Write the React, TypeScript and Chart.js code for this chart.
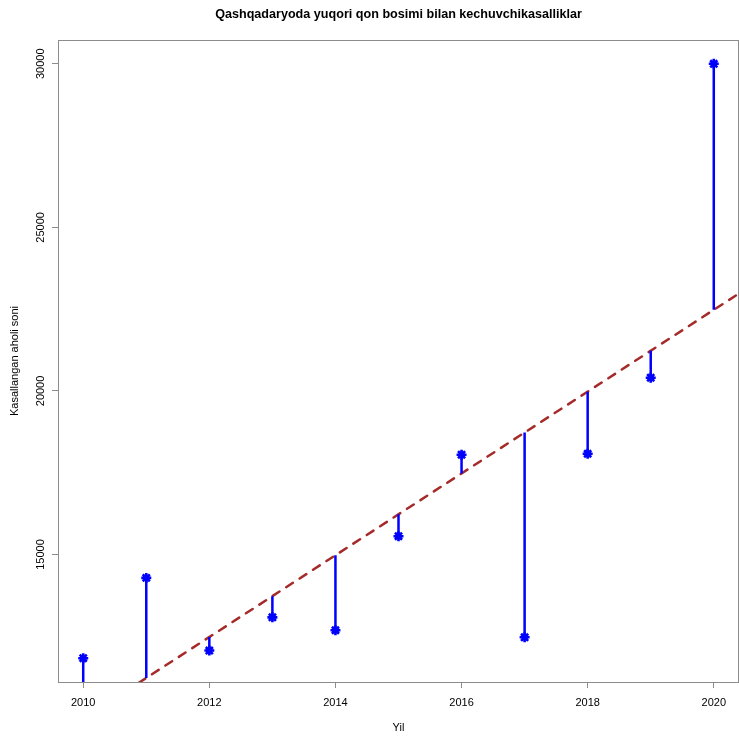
import { useEffect, useRef } from 'react';
import { Chart, registerables } from 'chart.js';

Chart.register(...registerables);

// years on the x axis and observed cases per year
const years = [2010, 2011, 2012, 2013, 2014, 2015, 2016, 2017, 2018, 2019, 2020];
const cases = [11830, 14285, 12065, 13080, 12685, 15560, 18050, 12470, 18080, 20405, 30000];

const xTickValues = [2010, 2012, 2014, 2016, 2018, 2020];
const yTickValues = [15000, 20000, 25000, 30000];

const TITLE = 'Qashqadaryoda yuqori qon bosimi bilan kechuvchikasalliklar';
const X_TITLE = 'Yil';
const Y_TITLE = 'Kasallangan aholi soni';

const AXIS_GREY = '#8c8c8c';
const FONT = "'Liberation Sans', Arial, Helvetica, sans-serif";

// least squares line, same as abline(lm(cases ~ years)) in the source plot
function fitLine(xs: number[], ys: number[]) {
  const n = xs.length;
  const mx = xs.reduce((a, b) => a + b, 0) / n;
  const my = ys.reduce((a, b) => a + b, 0) / n;
  let sxy = 0;
  let sxx = 0;
  xs.forEach((x, i) => {
    sxy += (x - mx) * (ys[i] - my);
    sxx += (x - mx) * (x - mx);
  });
  const slope = sxy / sxx;
  return (x: number) => my + slope * (x - mx);
}

// R pads the data range by 4% on each side
function paddedRange(vals: number[]) {
  const lo = Math.min(...vals);
  const hi = Math.max(...vals);
  const pad = (hi - lo) * 0.04;
  return [lo - pad, hi + pad];
}

const plotBox = {
  id: 'plotBox',
  afterDatasetsDraw(chart: Chart) {
    const { ctx, chartArea } = chart;
    ctx.save();
    ctx.strokeStyle = AXIS_GREY;
    ctx.lineWidth = 1;
    ctx.strokeRect(
      Math.round(chartArea.left) + 0.5,
      Math.round(chartArea.top) + 0.5,
      Math.round(chartArea.right - chartArea.left) - 1,
      Math.round(chartArea.bottom - chartArea.top),
    );
    ctx.restore();
  },
};

export default function App() {
  const canvasRef = useRef<HTMLCanvasElement>(null);

  useEffect(() => {
    document.body.style.margin = '0';
    const canvas = canvasRef.current;
    if (!canvas) return;

    const fit = fitLine(years, cases);
    const [xMin, xMax] = paddedRange(years);
    const [yMin, yMax] = paddedRange(cases);

    const residuals: { x: number; y: number | null }[] = [];
    years.forEach((yr, i) => {
      residuals.push({ x: yr, y: cases[i] });
      residuals.push({ x: yr, y: fit(yr) });
      residuals.push({ x: yr, y: null });
    });

    const chart = new Chart(canvas, {
      type: 'line',
      data: {
        datasets: [
          {
            label: 'points',
            data: years.map((yr, i) => ({ x: yr, y: cases[i] })),
            showLine: false,
            pointStyle: 'star',
            pointRadius: 5,
            pointBorderWidth: 2.6,
            pointBorderColor: '#0000ff',
            pointBackgroundColor: '#0000ff',
          },
          {
            label: 'residuals',
            data: residuals,
            borderColor: '#0000ff',
            borderWidth: 2.5,
            pointRadius: 0,
            spanGaps: false,
          },
          {
            label: 'trend',
            data: [
              { x: xMin, y: fit(xMin) },
              { x: xMax, y: fit(xMax) },
            ],
            borderColor: '#a52a2a',
            borderWidth: 2.5,
            borderDash: [8, 8],
            borderCapStyle: 'round',
            pointRadius: 0,
          },
        ],
      },
      options: {
        responsive: false,
        animation: false,
        events: [],
        font: { family: FONT },
        layout: { autoPadding: false },
        plugins: {
          legend: { display: false },
          tooltip: { enabled: false },
          title: {
            display: true,
            text: TITLE,
            fullSize: false,
            color: '#000',
            font: { family: FONT, size: 12.6, weight: 'bold' },
            padding: { top: 7, bottom: 17.9 },
          },
        },
        scales: {
          x: {
            type: 'linear',
            min: xMin,
            max: xMax,
            afterFit: (scale) => {
              scale.height = 54;
              scale.paddingLeft = 0;
              scale.paddingRight = 0;
            },
            afterBuildTicks: (scale) => {
              scale.ticks = xTickValues.map((v) => ({ value: v }));
            },
            ticks: {
              color: '#000',
              font: { family: FONT, size: 11 },
              padding: 8,
              maxRotation: 0,
              callback: (v) => String(v),
            },
            grid: {
              drawOnChartArea: false,
              drawTicks: true,
              tickLength: 6,
              color: AXIS_GREY,
            },
            border: { color: AXIS_GREY },
            title: {
              display: true,
              text: X_TITLE,
              color: '#000',
              font: { family: FONT, size: 11 },
              padding: { top: 0, bottom: 1 },
            },
          },
          y: {
            type: 'linear',
            min: yMin,
            max: yMax,
            afterFit: (scale) => {
              scale.width = 58;
              scale.paddingTop = 0;
              scale.paddingBottom = 0;
            },
            afterBuildTicks: (scale) => {
              scale.ticks = yTickValues.map((v) => ({ value: v }));
            },
            ticks: {
              color: '#000',
              font: { family: FONT, size: 11 },
              padding: -4,
              minRotation: 90,
              maxRotation: 90,
              crossAlign: 'center',
              callback: (v) => String(v),
            },
            grid: {
              drawOnChartArea: false,
              drawTicks: true,
              tickLength: 6,
              color: AXIS_GREY,
            },
            border: { color: AXIS_GREY },
            title: {
              display: true,
              text: Y_TITLE,
              color: '#000',
              font: { family: FONT, size: 11 },
              padding: { top: 8.4, bottom: 0 },
            },
          },
        },
      },
      plugins: [plotBox],
    });

    return () => {
      chart.destroy();
    };
  }, []);

  return (
    <div style={{ width: 739, height: 736, overflow: 'hidden', background: '#fff' }}>
      <canvas ref={canvasRef} width={739} height={736} aria-label="Qashqadaryoda chart" />
    </div>
  );
}
